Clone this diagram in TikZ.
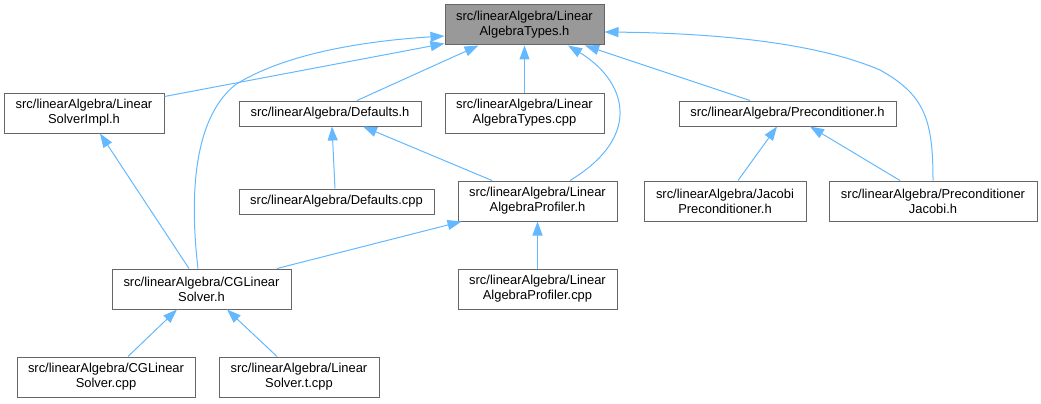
\documentclass[tikz,border=0pt]{standalone}
\usepackage{fontspec}
\setmainfont{Liberation Sans}
\usetikzlibrary{arrows.meta, calc}

\definecolor{edgeblue}{HTML}{63B8FF}
\definecolor{boxgray}{HTML}{666666}
\definecolor{topgray}{HTML}{999999}

\tikzset{
  file/.style={draw=boxgray, line width=0.75pt, fill=white, inner sep=0pt,
    align=center, font=\fontsize{9.7}{11.2}\selectfont},
  sz/.style n args={2}{minimum width=#1*0.75pt, minimum height=#2*0.75pt},
  dep/.style={draw=edgeblue, line width=0.75pt, -{Triangle[length=10.5pt, width=7.5pt]}}
}

\begin{document}
\begin{tikzpicture}[x=0.75pt, y=-0.75pt]
\useasboundingbox (0,0) rectangle (1041,403);
% top: the header everything includes
\node[file, fill=topgray, sz={159}{40}] (types) at (524.5,25) {src/linearAlgebra/Linear\\AlgebraTypes.h};
% second row
\node[file, sz={160}{40}] (impl) at (84,113) {src/linearAlgebra/Linear\\SolverImpl.h};
\node[file, sz={182}{25}] (defh) at (330,113.5) {src/linearAlgebra/Defaults.h};
\node[file, sz={159}{40}] (tcpp) at (524.5,113) {src/linearAlgebra/Linear\\AlgebraTypes.cpp};
\node[file, sz={217}{25}] (prech) at (787.5,113.5) {src/linearAlgebra/Preconditioner.h};
% third row
\node[file, sz={195}{25}] (defcpp) at (336.5,201.5) {src/linearAlgebra/Defaults.cpp};
\node[file, sz={159}{40}] (profh) at (537.5,201) {src/linearAlgebra/Linear\\AlgebraProfiler.h};
\node[file, sz={162}{40}] (jacp) at (725,201) {src/linearAlgebra/Jacobi\\Preconditioner.h};
\node[file, sz={208}{40}] (pjac) at (933,201) {src/linearAlgebra/Preconditioner\\Jacobi.h};
% fourth row
\node[file, sz={179}{40}] (cgh) at (201.5,289) {src/linearAlgebra/CGLinear\\Solver.h};
\node[file, sz={159}{40}] (profcpp) at (537.5,289) {src/linearAlgebra/Linear\\AlgebraProfiler.cpp};
% bottom row
\node[file, sz={178}{40}] (cgcpp) at (106,377) {src/linearAlgebra/CGLinear\\Solver.cpp};
\node[file, sz={160}{40}] (stcpp) at (299,377) {src/linearAlgebra/Linear\\Solver.t.cpp};

% edges into AlgebraTypes.h
\draw[dep] ($(impl.north east)+(0,4)$) -- ($(types.south west)+(0,-2)$);
\draw[dep] ($(cgh.north)+(-3.5,0)$) .. controls (190,200) and (192,120) .. (235,85)
  .. controls (290,50) and (380,40) .. ($(types.west)+(0,11)$);
\draw[dep] ($(defh.north)+(27,0)$) -- ($(types.south)+(-46,0)$);
\draw[dep] (tcpp.north) -- (types.south);
\draw[dep] ($(profh.north)+(32.5,0)$) .. controls (645,135) and (625,80) .. ($(types.south)+(43.5,0)$);
\draw[dep] ($(prech.north)+(-37.5,0)$) -- ($(types.south)+(60.5,0)$);
\draw[dep] (pjac.north) .. controls (933,120) and (925,95) .. (880,70)
  .. controls (810,40) and (700,33) .. ($(types.east)+(0,7)$);
% Defaults.h and Preconditioner.h
\draw[dep] ($(defcpp.north)+(-1.5,0)$) -- ($(defh.south)+(2,0)$);
\draw[dep] ($(profh.north)+(-45.5,0)$) -- ($(defh.south)+(33,0)$);
\draw[dep] ($(jacp.north)+(13,0)$) -- ($(prech.south)+(-10.5,0)$);
\draw[dep] ($(pjac.north)+(-33,0)$) -- ($(prech.south)+(22.5,0)$);
% lower part
\draw[dep] ($(cgh.north)+(-12.5,0)$) -- ($(impl.south)+(16,0)$);
\draw[dep] ($(cgh.north)+(75.5,0)$) -- ($(profh.south west)+(4,0)$);
\draw[dep] (profcpp.north) -- (profh.south);
\draw[dep] ($(cgcpp.north)+(22,0)$) -- ($(cgh.south)+(-24.5,0)$);
\draw[dep] ($(stcpp.north)+(-22,0)$) -- ($(cgh.south)+(25.5,0)$);
\end{tikzpicture}
\end{document}
